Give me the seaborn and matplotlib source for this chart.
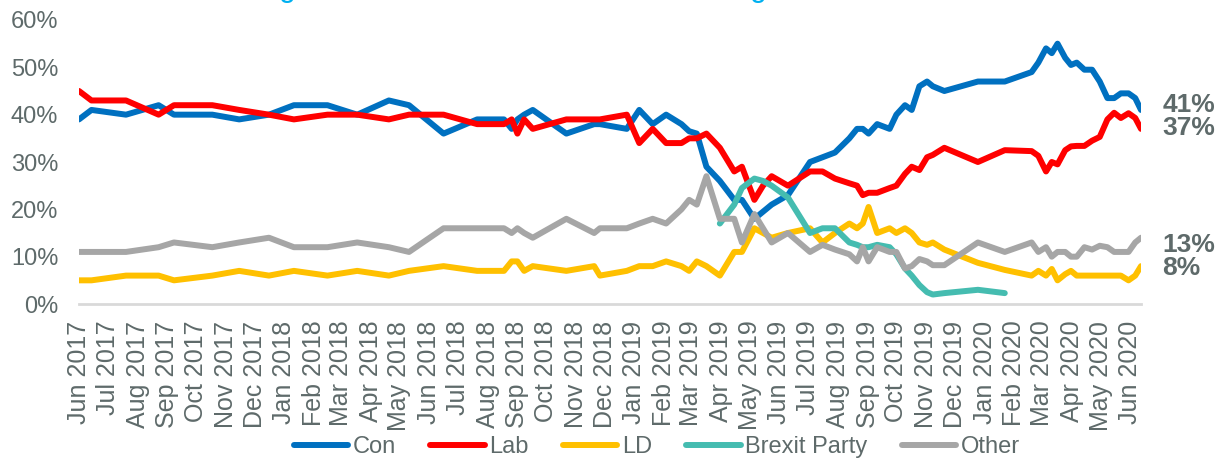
import pandas as pd
import matplotlib
matplotlib.use('Agg')
import matplotlib.pyplot as plt
import matplotlib.dates as mdates
import matplotlib.transforms as mtransforms
import seaborn as sns

nan = float('nan')

# poll dates
dates = [
    "2017-06-01", "2017-06-14", "2017-07-20", "2017-08-23", "2017-09-08", "2017-10-18", "2017-11-15", "2017-12-16",
    "2018-01-11", "2018-02-15", "2018-03-18", "2018-04-20", "2018-05-11", "2018-06-16", "2018-07-21", "2018-08-18",
    "2018-08-26", "2018-09-01", "2018-09-08", "2018-09-17", "2018-10-22", "2018-11-20", "2018-11-26", "2018-12-24",
    "2019-01-06", "2019-01-20", "2019-02-03", "2019-02-19", "2019-02-27", "2019-03-07", "2019-03-17", "2019-03-31",
    "2019-04-15", "2019-04-23", "2019-05-06", "2019-05-15", "2019-05-24", "2019-06-10", "2019-07-03", "2019-07-16",
    "2019-07-29", "2019-08-13", "2019-08-21", "2019-08-27", "2019-09-02", "2019-09-11", "2019-09-24", "2019-10-01",
    "2019-10-10", "2019-10-17", "2019-10-25", "2019-11-02", "2019-11-08", "2019-11-20", "2019-12-25", "2020-01-22",
    "2020-02-19", "2020-02-26", "2020-03-05", "2020-03-11", "2020-03-17", "2020-03-25", "2020-03-31", "2020-04-06",
    "2020-04-14", "2020-04-22", "2020-04-30", "2020-05-08", "2020-05-15", "2020-05-22", "2020-05-30", "2020-06-06",
    "2020-06-12",
]

con = [39, 41, 40, 42, 40, 40, 39, 40,
       42, 42, 40, 43, 42, 36, 39, 39,
       37, 39, 40, 41, 36, 38, 38, 37,
       41, 38, 40, 38, 36.5, 36, 29, 26,
       22, 22, 18, 19.5, 21, 23, 30, 31,
       32, 35, 37, 37, 36, 38, 37, 40,
       42, 41, 46, 47, 46, 45, 47, 47,
       49, 51, 54, 53, 55, 52, 50.5, 51,
       49.5, 49.5, 47, 43.5, 43.5, 44.5, 44.5, 43.5, 41]

lab = [45, 43, 43, 40, 42, 42, 41, 40,
       39, 40, 40, 39, 40, 40, 38, 38,
       39, 36, 39, 37, 39, 39, 39, 40,
       34, 37, 34, 34, 35, 35, 36, 33,
       28, 29, 22, 25, 27, 25, 28, 28,
       26.5, 25.5, 25, 23, 23.5, 23.5, 24.5, 25,
       27.5, 29, 28.3, 31, 31.5, 33, 30, 32.5,
       32.3, 31.3, 28, 30, 29.5, 32.5, 33.3, 33.4,
       33.4, 34.5, 35.3, 39, 40.4, 39.3, 40.3, 39.3, 37]

ld = [5, 5, 6, 6, 5, 6, 7, 6,
      7, 6, 7, 6, 7, 8, 7, 7,
      9, 9, 7, 8, 7, 8, 6, 7,
      8, 8, 9, 8, 7, 9, 8, 6,
      11, 11, 16, 15, 14, 15, 16, 13,
      15, 17, 16, 17, 20.5, 15, 16, 15,
      16, 15, 13, 12.5, 13, 11.5, 8.7, 7.2,
      6, 7, 6, 7.4, 5, 6.3, 7, 6,
      6, 6, 6, 6, 6, 6, 5, 6, 8]

brexit = [nan] * 31 + [17,
          21, 24.5, 26.5, 26, 25, 22.5, 15, 16,
          16, 13, 12.5, 12, 12, 12.5, 12, 10.5,
          7.5, 6, 4, 2.5, 2, 2.3, 3, 2.3] + [nan] * 17

other = [11, 11, 11, 12, 13, 12, 13, 14,
         12, 12, 13, 12, 11, 16, 16, 16,
         15, 16, 15, 14, 18, 15, 16, 16,
         17, 18, 17, 20, 22, 21, 27, 18,
         18, 13, 19, 16, 13, 15, 11, 12.5,
         11.5, 10.5, 9, 12, 9, 12, 11, 11,
         7.5, 8, 9.5, 9, 8.2, 8.2, 13, 11,
         13, 11, 12, 10, 11, 11, 10, 10,
         12, 11.5, 12.3, 12, 11, 11, 11, 13, 14]

parties = ['Con', 'Lab', 'LD', 'Brexit Party', 'Other']
colours = ['#0070C0', '#FF0000', '#FFC000', '#45BCB0', '#A6A6A6']
end_labels = ['41%', '37%', '13%', '8%']
end_label_y = [42.1, 37.2, 12.5, 7.6]

df = pd.DataFrame({'date': pd.to_datetime(dates), 'Con': con, 'Lab': lab, 'LD': ld,
                   'Brexit Party': brexit, 'Other': other})
long = df.melt(id_vars='date', var_name='party', value_name='share')

sns.set_theme(style='white')
plt.rcParams['font.family'] = ['Liberation Sans', 'DejaVu Sans']
grey = '#5E6A6A'

fig = plt.figure(figsize=(12.27, 4.61), dpi=100)
ax = fig.add_axes([79 / 1227, 1 - 304 / 461, 1062 / 1227, 284 / 461])

sns.lineplot(data=long, x='date', y='share', hue='party', hue_order=parties,
             palette=colours, linewidth=4.3, ax=ax,
             solid_capstyle='round', solid_joinstyle='round')

ax.set_ylim(0, 60)
ax.set_yticks(range(0, 61, 10))
ax.yaxis.set_major_formatter(plt.FuncFormatter(lambda v, p: f"{v:.0f}%"))
ax.set_xlim(df['date'].iloc[0], df['date'].iloc[-1])
ax.xaxis.set_major_locator(mdates.MonthLocator())
ax.xaxis.set_major_formatter(mdates.DateFormatter('%b %Y'))
ax.set_xlabel('')
ax.set_ylabel('')

for s in ['top', 'right', 'left']:
    ax.spines[s].set_visible(False)
ax.spines['bottom'].set_color('#D9D9D9')
ax.spines['bottom'].set_linewidth(2)
ax.spines['bottom'].set_zorder(0)

ax.tick_params(axis='x', length=0, pad=12, labelsize=18, labelcolor=grey, labelrotation=90)
ax.tick_params(axis='y', length=0, pad=15, labelsize=17, labelcolor=grey)

trans = mtransforms.blended_transform_factory(ax.transAxes, ax.transData)
for txt, yv in zip(end_labels, end_label_y):
    ax.text(1.02, yv, txt, transform=trans, fontsize=19, fontweight='bold',
            color=grey, va='center', ha='left', clip_on=False)

sns.move_legend(ax, 'center', bbox_to_anchor=(657 / 1227, 1 - 447 / 461),
                bbox_transform=fig.transFigure, ncol=5, frameon=False, title=None,
                fontsize=17, handlelength=2.3, handletextpad=0.2, columnspacing=1.45,
                labelcolor=grey, borderaxespad=0, borderpad=0)
for h in ax.get_legend().get_lines():
    h.set_linewidth(4.3)

# clipped title remnants at the very top (only the descenders show in the reference)
for xp in [287, 758]:
    fig.text(xp / 1227, 1 + 4 / 461, 'g', color='#00B0F0', fontsize=22,
             ha='center', va='baseline')

fig.savefig('out.png', dpi=100)
